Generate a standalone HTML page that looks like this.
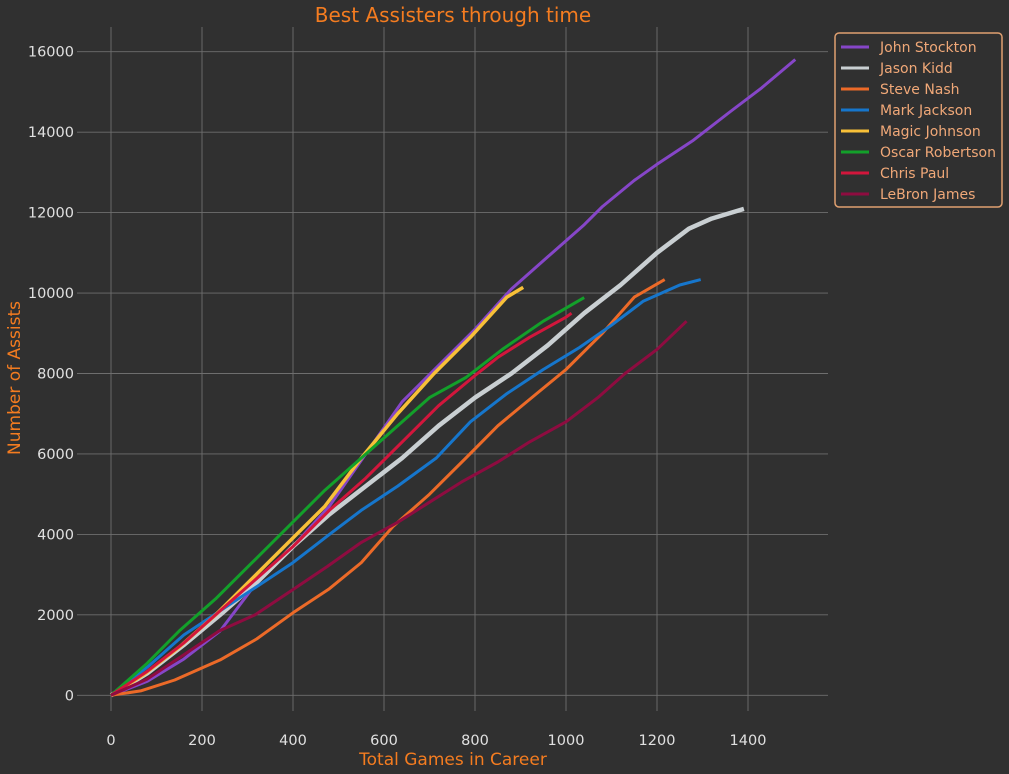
<!DOCTYPE html>
<html><head><meta charset="utf-8"><style>
html,body{margin:0;padding:0;background:#303030;}
svg{display:block;font-family:"DejaVu Sans","Liberation Sans",sans-serif;}
</style></head><body>
<svg id="chart" width="1009" height="774" viewBox="0 0 1009 774">
<rect x="0" y="0" width="1009" height="774" fill="#303030"/>
<text x="453" y="22" text-anchor="middle" font-size="20" fill="#f47c20">Best Assisters through time</text>
<text x="453" y="765" text-anchor="middle" font-size="17" fill="#f47c20">Total Games in Career</text>
<text transform="translate(20,378) rotate(-90)" text-anchor="middle" font-size="17" fill="#f47c20">Number of Assists</text>
<g id="grid"></g><g id="ticks"></g><g id="lines"></g><g id="legend"></g>
</svg>
<script>
const xTicks=[0,200,400,600,800,1000,1200,1400];
const yTicks=[0,2000,4000,6000,8000,10000,12000,14000,16000];
const players=["John Stockton","Jason Kidd","Steve Nash","Mark Jackson","Magic Johnson","Oscar Robertson","Chris Paul","LeBron James"];
const stocktonG=[0,80,160,240,320,400,480,560,640,720,800,880,960,1040,1080,1150,1200,1280,1360,1430,1504];
const stocktonA=[0,350,900,1600,2800,3700,4700,6000,7300,8200,9100,10100,10900,11700,12150,12800,13200,13800,14500,15100,15806];
const kiddG=[0,80,160,240,320,400,480,560,640,720,800,880,960,1040,1120,1200,1270,1320,1391];
const kiddA=[0,550,1250,2000,2800,3700,4500,5200,5900,6700,7400,8000,8700,9500,10200,11000,11600,11850,12091];
const nashG=[0,65,140,240,320,400,480,550,620,700,780,850,930,1000,1080,1150,1217];
const nashA=[0,110,380,880,1400,2050,2650,3300,4200,5000,5900,6700,7450,8100,9000,9900,10335];
const jacksonG=[0,80,160,240,320,400,480,550,630,715,790,870,950,1030,1100,1170,1250,1296];
const jacksonA=[0,700,1500,2100,2700,3300,4000,4600,5200,5900,6800,7500,8100,8650,9200,9800,10200,10334];
const magicG=[0,70,150,230,310,390,470,550,630,710,790,870,906];
const magicA=[0,500,1200,2000,2900,3800,4700,5900,7000,8000,8900,9900,10141];
const oscarG=[0,80,150,230,310,390,470,550,630,700,780,860,950,1040];
const oscarA=[0,800,1600,2400,3300,4200,5100,5900,6700,7400,7900,8600,9300,9887];
const paulG=[0,80,160,240,320,400,480,560,640,720,800,850,920,1000,1012];
const paulA=[0,600,1300,2100,2900,3700,4600,5400,6300,7200,7950,8400,8900,9400,9500];
const lebronG=[0,79,159,238,317,396,475,550,630,700,770,850,920,1000,1070,1130,1200,1265];
const lebronA=[0,400,1000,1600,2000,2600,3200,3800,4300,4800,5300,5800,6300,6800,7400,8000,8600,9300];
const seriesG=[stocktonG,kiddG,nashG,jacksonG,magicG,oscarG,paulG,lebronG];
const seriesA=[stocktonA,kiddA,nashA,jacksonA,magicA,oscarA,paulA,lebronA];
const colors=["#8646c8","#c9cfd2","#ec6a28","#1676cc","#f8c038","#13a02a","#d2163c","#8e0c40"];
const widths=[3,4.5,3,3,3.5,3,3,3];
const NS="http://www.w3.org/2000/svg";
const X0=77,X1=828,Y0=711,Y1=27;
const xs=v=>111+v*(91/200);
const ys=v=>695.3-v*(80.45/2000);
function mk(t,a,p){const e=document.createElementNS(NS,t);for(const k in a)e.setAttribute(k,a[k]);p.appendChild(e);return e;}
const grid=document.getElementById('grid'),ticks=document.getElementById('ticks');
xTicks.forEach(v=>{const l=mk('line',{x1:xs(v),x2:xs(v),y1:Y1,y2:Y0,stroke:'#6e6e6e','stroke-width':0.9},grid);


const t=mk('text',{x:xs(v),y:745,'text-anchor':'middle','font-size':14.5,fill:'#e0e0e0'},ticks);t.textContent=v;

});
yTicks.forEach(v=>{const l=mk('line',{x1:X0,x2:X1,y1:ys(v),y2:ys(v),stroke:'#6e6e6e','stroke-width':0.9},grid);


const t=mk('text',{x:X0-3,y:ys(v)+5,'text-anchor':'end','font-size':14.5,fill:'#e0e0e0'},ticks);t.textContent=v;

});
const lines=document.getElementById('lines');
for(let i=0;i<players.length;i++){
 const pts=seriesG[i].map((g,j)=>xs(g).toFixed(1)+','+ys(seriesA[i][j]).toFixed(1)).join(' ');
 const p=mk('polyline',{points:pts,fill:'none',stroke:colors[i],'stroke-width':widths[i],'stroke-linejoin':'round'},lines);
 
 
}
const lg=document.getElementById('legend');
const box=mk('rect',{x:835,y:33,width:167,height:174,rx:4,fill:'#303030',stroke:'#e0a070','stroke-width':1.5},lg);


players.forEach((n,i)=>{const y=47+i*21;
 const l=mk('line',{x1:841,x2:869,y1:y,y2:y,stroke:colors[i],'stroke-width':3},lg);
 
 
 const t=mk('text',{x:880,y:y+5,'font-size':14,fill:'#f0a878'},lg);t.textContent=n;
 
 });
</script>
</body></html>
